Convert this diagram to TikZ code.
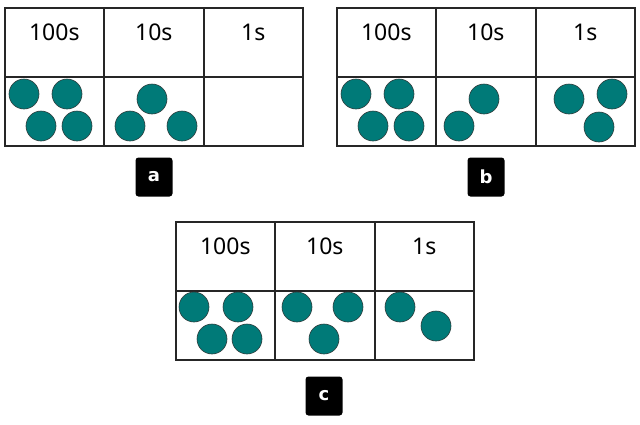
\documentclass[tikz,border=0pt]{standalone}
\usepackage{fontspec}
\setmainfont{Noto Sans}
\newfontfamily\tagfont{DejaVu Sans Bold}
\definecolor{teal1}{RGB}{0,122,120}
\definecolor{rim}{RGB}{45,60,60}
\tikzset{
  cell/.style={draw=black!85, line width=1.6pt, minimum width=99pt, minimum height=69pt, inner sep=0pt},
  head/.style={font=\fontsize{23}{25}\selectfont, inner sep=0pt, anchor=center},
  dot/.style={circle, fill=teal1, draw=rim, line width=0.6pt, minimum size=30pt, inner sep=0pt},
  tag/.style={fill=black, rounded corners=3pt, minimum width=37pt, minimum height=39pt, text=white, font=\tagfont\fontsize{18}{18}\selectfont, inner sep=0pt}
}
\newcommand{\pvtable}[3]{%
  % #1 prefix, #2 left x, #3 top y
  \node[cell, anchor=north west] (#1h1) at (#2,#3) {};
  \node[cell, anchor=north west] (#1h2) at ($(#2,#3)+(99.5,0)$) {};
  \node[cell, anchor=north west] (#1h3) at ($(#2,#3)+(199,0)$) {};
  \node[cell, anchor=north west] (#1b1) at ($(#2,#3)+(0,69)$) {};
  \node[cell, anchor=north west] (#1b2) at ($(#2,#3)+(99.5,69)$) {};
  \node[cell, anchor=north west] (#1b3) at ($(#2,#3)+(199,69)$) {};
  \node[head] (#1t1) at ($(#1h1.north)+(0,25)$) {100s};
  \node[head] (#1t2) at ($(#1h2.north)+(0,25)$) {10s};
  \node[head] (#1t3) at ($(#1h3.north)+(0,25)$) {1s};
}
\usetikzlibrary{calc}
\begin{document}
\begin{tikzpicture}[x=1pt,y=-1pt]
\useasboundingbox (0,0) rectangle (640,424);
% table a
\pvtable{a}{4}{7}
\node[dot] (a11) at (24,94) {};
\node[dot] (a12) at (67,94) {};
\node[dot] (a13) at (41,126) {};
\node[dot] (a14) at (77,126) {};
\node[dot] (a21) at (152,99) {};
\node[dot] (a22) at (130,126) {};
\node[dot] (a23) at (182,126) {};
\node[tag] (la) at (154,177) {a};
% table b
\pvtable{b}{336}{7}
\node[dot] (b11) at (356,94) {};
\node[dot] (b12) at (399,94) {};
\node[dot] (b13) at (373,126) {};
\node[dot] (b14) at (409,126) {};
\node[dot] (b21) at (484,99) {};
\node[dot] (b22) at (459,126) {};
\node[dot] (b31) at (569,99) {};
\node[dot] (b32) at (612,94) {};
\node[dot] (b33) at (599,127) {};
\node[tag] (lb) at (486,177) {b};
% table c
\pvtable{c}{175}{221}
\node[dot] (c11) at (194,307) {};
\node[dot] (c12) at (238,307) {};
\node[dot] (c13) at (212,339) {};
\node[dot] (c14) at (247,339) {};
\node[dot] (c21) at (297,307) {};
\node[dot] (c22) at (348,307) {};
\node[dot] (c23) at (324,339) {};
\node[dot] (c31) at (400,307) {};
\node[dot] (c32) at (436,326) {};
\node[tag] (lc) at (324,396) {c};
\end{tikzpicture}
\end{document}
